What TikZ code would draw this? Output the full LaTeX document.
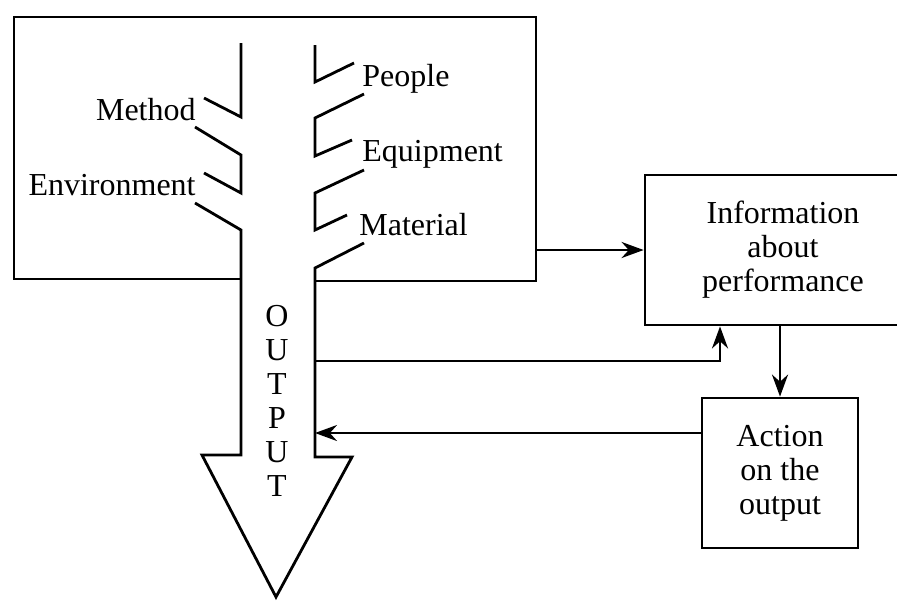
\documentclass[tikz,border=0pt]{standalone}
\usepackage{fontspec}
\setmainfont{Liberation Serif}
\usetikzlibrary{arrows.meta,calc}

\begin{document}
\begin{tikzpicture}[x=0.5pt,y=0.5pt,line width=1.4pt,>={Stealth[length=11pt,width=8pt]}]
\tikzstyle{every node}+=[inner sep=0pt,font=\fontsize{16}{17}\selectfont]
\tikzstyle{box}=[draw,black,align=center,minimum height=75pt]
\clip (0,0) rectangle (897,-601);
% process box, open where the output leaves it
\draw [black] (241,-279) -- (14,-279) -- (14,-17) -- (536,-17) -- (536,-281) -- (315,-281);
% bones and the output arrow
\draw [black] (241,-43) -- (241,-117) -- (204,-98);
\draw [black] (195,-127) -- (241,-155) -- (241,-193) -- (204,-173);
\draw [black] (195,-203) -- (241,-230) -- (241,-455) -- (202,-455) -- (276,-597) -- (352,-457) -- (315,-457) -- (315,-268) -- (364,-243);
\draw [black] (347,-215) -- (315,-230) -- (315,-193) -- (364,-170);
\draw [black] (352,-140) -- (315,-156) -- (315,-118) -- (364,-94);
\draw [black] (354,-63) -- (315,-82) -- (315,-45);
\draw (197,-120) node (method) [anchor=base east] {Method};
\draw (197,-195) node (envir) [anchor=base east] {Environment};
\draw (361,-86) node (people) [anchor=base west] {People};
\draw (361,-161) node (equip) [anchor=base west] {Equipment};
\draw (358,-235) node (mater) [anchor=base west] {Material};
\node (output) [align=center] at (277,-401) {O\\U\\T\\P\\U\\T};
% feedback loop
\node (info) [box,minimum width=138pt] at (783,-250) {Information\\about\\performance};
\node (action) [box,minimum width=78pt] at (780,-473) {Action\\on the\\output};
\coordinate (boxE) at (536,-250);
\coordinate (tapA) at (315,-361);
\coordinate (tapB) at (315,-433);
\draw [->] (boxE) -- (info.west);
\draw [->] (tapA) -| ($(info.south)+(-63,0)$);
\draw [->] (info.south -| action.north) -- (action.north);
\draw [->] (action.west |- tapB) -- (tapB);
\end{tikzpicture}
\end{document}
